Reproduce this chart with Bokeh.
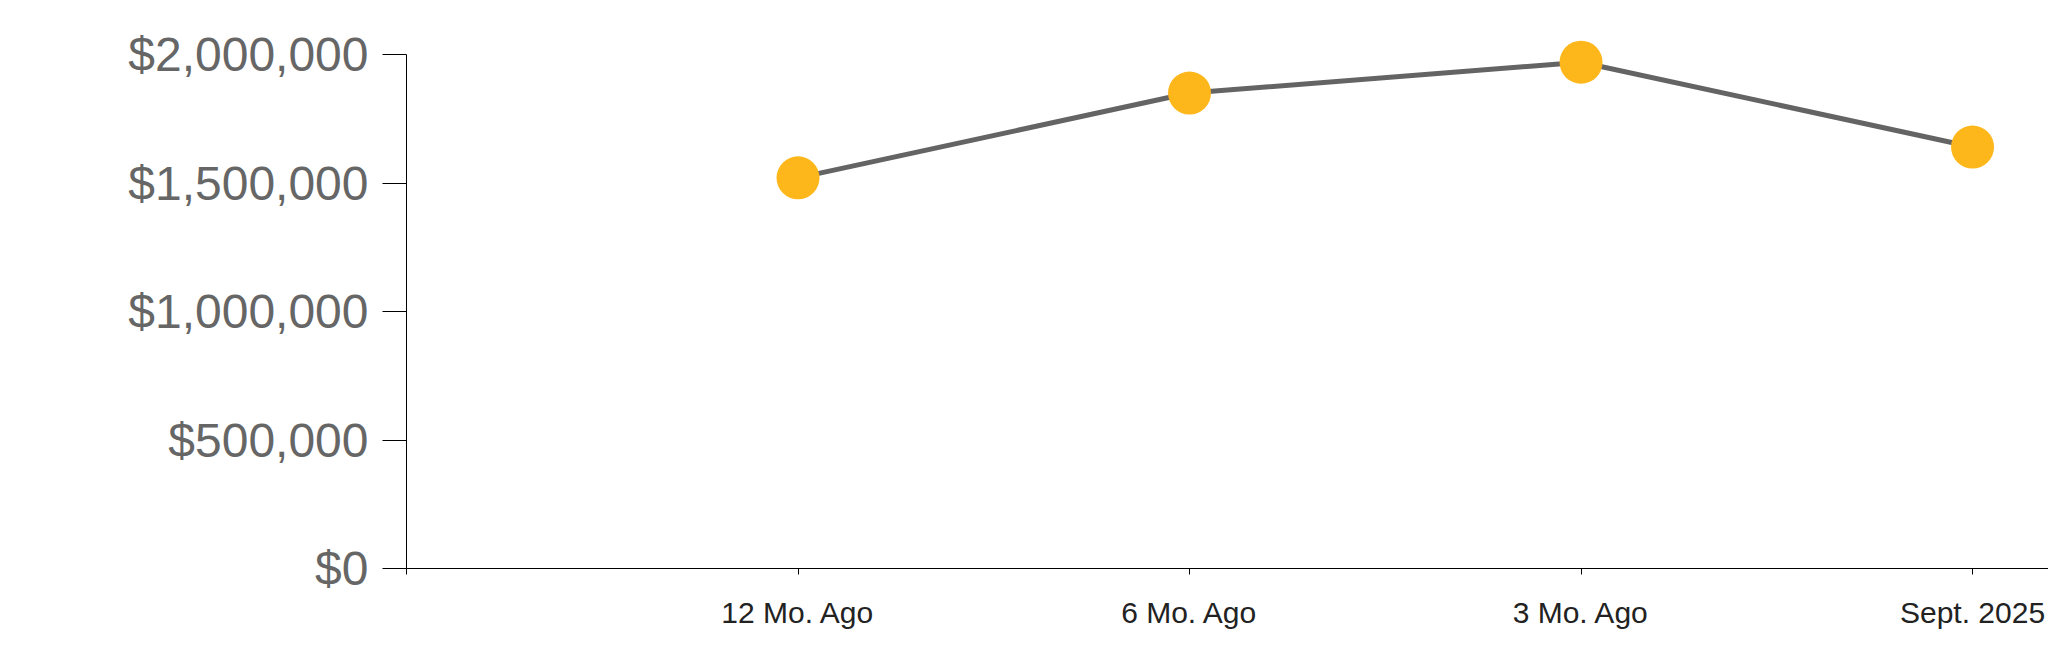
from bokeh.plotting import figure
from bokeh.models import Range1d, FixedTicker, NumeralTickFormatter, ColumnDataSource
from bokeh.embed import file_html
from bokeh.resources import INLINE

categories = ["12 Mo. Ago", "6 Mo. Ago", "3 Mo. Ago", "Sept. 2025"]
values = [1520000, 1850000, 1970000, 1640000]
y_ticks = [0, 500000, 1000000, 1500000, 2000000]

# point scale with an empty first slot at the y axis
positions = [i + 1 for i in range(len(categories))]
source = ColumnDataSource(dict(x=positions, y=values, label=categories))

# extra headroom above the top tick so markers are not clipped
y_top = y_ticks[-1] * 565 / 514

p = figure(width=2048, height=655, output_backend="svg", toolbar_location=None,
           x_range=Range1d(0, len(categories) + 0.194), y_range=Range1d(0, y_top),
           min_border_left=406, min_border_right=0, min_border_top=3, min_border_bottom=87)
p.outline_line_color = None
p.grid.visible = False
p.background_fill_color = "white"
p.border_fill_color = "white"

p.line("x", "y", source=source, line_color="#646464", line_width=5)
p.scatter("x", "y", source=source, size=43, fill_color="#FDB71A", line_color=None)

xa = p.xaxis[0]
xa.ticker = FixedTicker(ticks=[0] + positions)
xa.major_label_overrides = {0: ""} | {pos: lab for pos, lab in zip(positions, categories)}
xa.major_tick_out = 6
xa.major_tick_in = 0
xa.minor_tick_out = 0
xa.minor_tick_in = 0
xa.major_label_standoff = 21
xa.major_label_text_font = "Liberation Sans"
xa.major_label_text_font_size = "30px"
xa.major_label_text_color = "#222222"
xa.axis_line_color = "black"
xa.major_tick_line_color = "black"

ya = p.yaxis[0]
ya.ticker = FixedTicker(ticks=y_ticks)
ya.bounds = (y_ticks[0], y_ticks[-1])
ya.formatter = NumeralTickFormatter(format="$0,0")
ya.major_tick_out = 24
ya.major_tick_in = 0
ya.minor_tick_out = 0
ya.minor_tick_in = 0
ya.major_label_standoff = 14
ya.major_label_text_font = "Liberation Sans"
ya.major_label_text_font_size = "48px"
ya.major_label_text_color = "#666666"
ya.axis_line_color = "black"
ya.major_tick_line_color = "black"

open("out.html", "w").write(file_html(p, INLINE))
